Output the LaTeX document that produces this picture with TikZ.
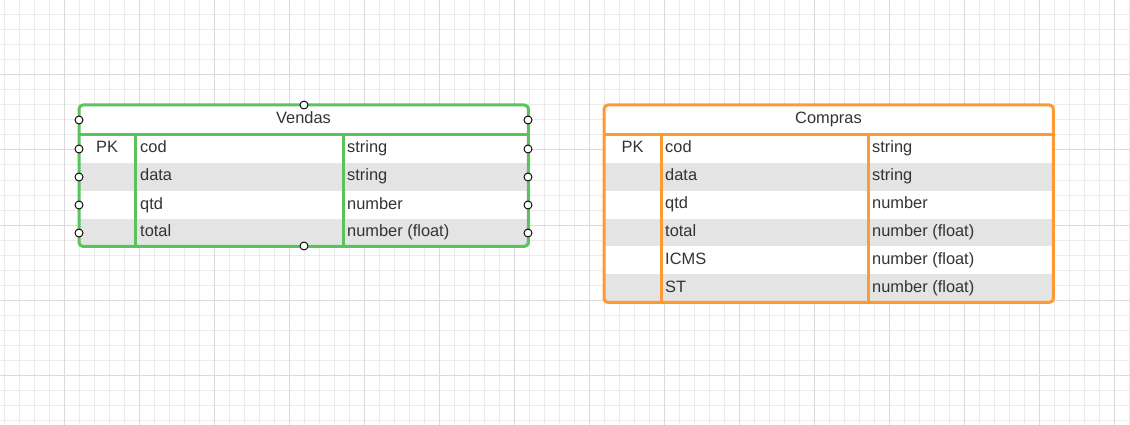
\documentclass[tikz,border=0pt]{standalone}
\usepackage{fontspec}
\setmainfont{Liberation Sans}
\definecolor{gridminor}{HTML}{EBEBEB}
\definecolor{gridmajor}{HTML}{DADADA}
\definecolor{stripegray}{HTML}{E4E4E4}
\definecolor{txtgray}{HTML}{333333}
\definecolor{vgreen}{HTML}{5AC35C}
\definecolor{corange}{HTML}{FF9933}
\tikzset{
  minorgrid/.style={draw=gridminor, line width=1pt},
  majorgrid/.style={draw=gridmajor, line width=1pt},
  stripe/.style={fill=stripegray, draw=none},
  tblbg/.style={fill=white, draw=none, inner sep=0pt, anchor=north west, rounded corners=4pt},
  border/.style={draw=#1, line width=3pt, rounded corners=4pt},
  sep/.style={draw=#1, line width=3pt},
  celltxt/.style={text=txtgray, font=\fontsize{16.4}{18}\selectfont, inner sep=0pt, anchor=base west},
  ctrtxt/.style={text=txtgray, font=\fontsize{16.4}{18}\selectfont, inner sep=0pt, anchor=base},
  handle/.style={circle, draw=black, fill=white, line width=0.9pt, minimum size=8pt, inner sep=0pt},
}
\begin{document}
\begin{tikzpicture}[x=1pt,y=-1pt]
\useasboundingbox (0,0) rectangle (1130,425);
\fill[white] (0,0) rectangle (1130,425);
% grid
\foreach \x in {4,19,...,1130} \draw[minorgrid] (\x,0) -- (\x,425);
\foreach \y in {0,15,...,425} \draw[minorgrid] (0,\y) -- (1130,\y);
\foreach \x in {64,139,...,1130} \draw[majorgrid] (\x,0) -- (\x,425);
\foreach \y in {75,150,...,425} \draw[majorgrid] (0,\y) -- (1130,\y);

% ---------------- Vendas ----------------
\node[tblbg, minimum width=449pt, minimum height=141pt] (vendas) at (79,105) {};
\fill[stripe] (79,163) rectangle (528,191);
\fill[stripe] (79,219) rectangle (528,246);
\draw[sep=vgreen] (79,135) -- (528,135);
\draw[sep=vgreen] (135,135) -- (135,246);
\draw[sep=vgreen] (343,135) -- (343,246);
\draw[border=vgreen] (vendas.north west) rectangle (vendas.south east);
\node[ctrtxt] (vt) at (303.5,124) {Vendas};
\node[ctrtxt] (vpk) at (107,153) {PK};
\foreach \n/\t/\b/\yy in {1/cod/string/153, 2/data/string/181, 3/qtd/number/209, 4/total/number (float)/236} {
  \node[celltxt] (vf\n) at (140,\yy) {\t};
  \node[celltxt] (vy\n) at (347,\yy) {\b};
}

% ---------------- Compras ----------------
\node[tblbg, minimum width=449pt, minimum height=197pt] (compras) at (604,105) {};
\fill[stripe] (604,163) rectangle (1053,191);
\fill[stripe] (604,218.5) rectangle (1053,246);
\fill[stripe] (604,274) rectangle (1053,302);
\draw[sep=corange] (604,135) -- (1053,135);
\draw[sep=corange] (661,135) -- (661,302);
\draw[sep=corange] (868,135) -- (868,302);
\draw[border=corange] (compras.north west) rectangle (compras.south east);
\node[ctrtxt] (ct) at (828.5,124) {Compras};
\node[ctrtxt] (cpk) at (632.5,153) {PK};
\foreach \n/\t/\b/\yy in {1/cod/string/153, 2/data/string/180.5, 3/qtd/number/208, 4/total/number (float)/236, 5/ICMS/number (float)/264, 6/ST/number (float)/292} {
  \node[celltxt] (cf\n) at (665,\yy) {\t};
  \node[celltxt] (cy\n) at (872,\yy) {\b};
}

% selection handles on Vendas
\node[handle] (hT) at (304,105) {};
\node[handle] (hB) at (304,246) {};
\foreach \i/\yy in {1/120, 2/149, 3/177, 4/205, 5/233} {
  \node[handle] (hL\i) at (79,\yy) {};
  \node[handle] (hR\i) at (528,\yy) {};
}
\end{tikzpicture}
\end{document}
